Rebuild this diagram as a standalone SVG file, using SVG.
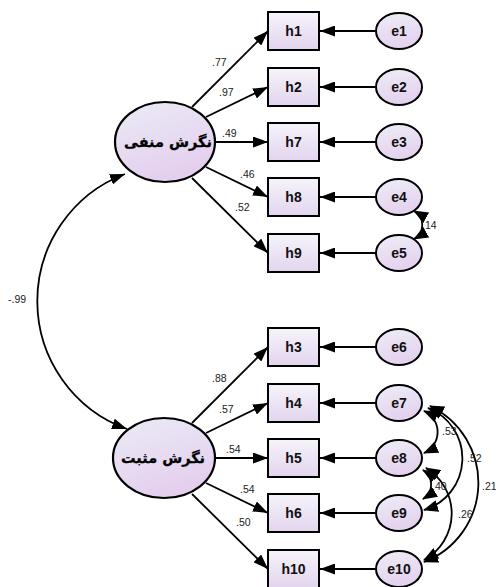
<svg xmlns="http://www.w3.org/2000/svg" width="496" height="587" viewBox="0 0 496 587">
<style>
.box rect{fill:url(#gb);stroke:#000;stroke-width:2}
.lat ellipse{fill:url(#gl);stroke:#000;stroke-width:2.2}
.err ellipse{fill:url(#ge);stroke:#000;stroke-width:2}
.nt{font-family:"Liberation Sans",Arial,sans-serif;font-weight:bold;font-size:14px;fill:#111;text-anchor:middle}
.lt{font-family:"DejaVu Sans","Noto Sans",sans-serif;font-weight:bold;font-size:14.5px;fill:#000;text-anchor:middle;stroke:#000;stroke-width:0.3}
.lb{font-family:"Liberation Sans",Arial,sans-serif;font-size:10.5px;fill:#222}
#conn path,#conn line{fill:none;stroke:#000;stroke-width:1.8}
</style>
<defs>
<linearGradient id="gb" x1="0" y1="0" x2="0" y2="1"><stop offset="0" stop-color="#f6f4fa"/><stop offset="1" stop-color="#e2d4ee"/></linearGradient>
<linearGradient id="gl" x1="0" y1="0" x2="0.4" y2="1"><stop offset="0" stop-color="#ebebf6"/><stop offset="1" stop-color="#e4cfee"/></linearGradient>
<linearGradient id="ge" x1="0" y1="0" x2="0.3" y2="1"><stop offset="0" stop-color="#eeedf7"/><stop offset="1" stop-color="#e4d2ee"/></linearGradient>
<marker id="ah" markerWidth="15" markerHeight="11" refX="15" refY="5.5" orient="auto-start-reverse" markerUnits="userSpaceOnUse"><path d="M0,0 L15,5.5 L0,11 Z" fill="#000"/></marker>
<marker id="ac" markerWidth="15" markerHeight="12" refX="14" refY="6" orient="auto-start-reverse" markerUnits="userSpaceOnUse"><path d="M0,0 L15,6 L0,12 Z" fill="#000"/></marker>
</defs>

<g id="conn">
<line x1="192" y1="107" x2="268" y2="31" marker-end="url(#ah)"/>
<line x1="206" y1="117" x2="268" y2="87" marker-end="url(#ah)"/>
<line x1="215" y1="142" x2="268" y2="142" marker-end="url(#ah)"/>
<line x1="206" y1="167" x2="268" y2="197" marker-end="url(#ah)"/>
<line x1="192" y1="178" x2="268" y2="253" marker-end="url(#ah)"/>
<line x1="192" y1="423" x2="268" y2="347" marker-end="url(#ah)"/>
<line x1="206" y1="433" x2="268" y2="403" marker-end="url(#ah)"/>
<line x1="215" y1="458" x2="268" y2="458" marker-end="url(#ah)"/>
<line x1="206" y1="483" x2="268" y2="513" marker-end="url(#ah)"/>
<line x1="192" y1="494" x2="268" y2="569" marker-end="url(#ah)"/>
<line x1="376" y1="31" x2="320" y2="31" marker-end="url(#ah)"/>
<line x1="376" y1="87" x2="320" y2="87" marker-end="url(#ah)"/>
<line x1="376" y1="142" x2="320" y2="142" marker-end="url(#ah)"/>
<line x1="376" y1="197" x2="320" y2="197" marker-end="url(#ah)"/>
<line x1="376" y1="253" x2="320" y2="253" marker-end="url(#ah)"/>
<line x1="376" y1="347" x2="320" y2="347" marker-end="url(#ah)"/>
<line x1="376" y1="403" x2="320" y2="403" marker-end="url(#ah)"/>
<line x1="376" y1="458" x2="320" y2="458" marker-end="url(#ah)"/>
<line x1="376" y1="513" x2="320" y2="513" marker-end="url(#ah)"/>
<line x1="376" y1="569" x2="320" y2="569" marker-end="url(#ah)"/>
<path d="M125,174 A136,136 0 0 0 127,429" marker-start="url(#ah)" marker-end="url(#ah)"/>
<path d="M414,211 A16,16 0 0 1 414,239" marker-start="url(#ac)" marker-end="url(#ac)"/>
<path d="M424,411 A23,23 0 0 1 424,453" marker-start="url(#ac)" marker-end="url(#ac)"/>
<path d="M428,408 A54,54 0 0 1 424,510" marker-start="url(#ac)" marker-end="url(#ac)"/>
<path d="M430,406 A85,85 0 0 1 424,562" marker-start="url(#ac)" marker-end="url(#ac)"/>
<path d="M423,470 A17,17 0 0 1 423,499" marker-start="url(#ac)" marker-end="url(#ac)"/>
<path d="M426,468 A53,53 0 0 1 424,560" marker-start="url(#ac)" marker-end="url(#ac)"/>
</g>

<g id="labels">
<text class="lb" x="212" y="66">.77</text>
<text class="lb" x="219" y="96">.97</text>
<text class="lb" x="222" y="137">.49</text>
<text class="lb" x="240" y="178">.46</text>
<text class="lb" x="235" y="211">.52</text>
<text class="lb" x="8" y="303">-.99</text>
<text class="lb" x="212" y="382">.88</text>
<text class="lb" x="219" y="413">.57</text>
<text class="lb" x="226" y="453">.54</text>
<text class="lb" x="240" y="493">.54</text>
<text class="lb" x="236" y="526">.50</text>
<text class="lb" x="422" y="229">.14</text>
<text class="lb" x="442" y="435">.53</text>
<text class="lb" x="467" y="462">.52</text>
<text class="lb" x="482" y="490">.21</text>
<text class="lb" x="432" y="490">.40</text>
<text class="lb" x="458" y="518">.26</text>
</g>

<g id="F1" class="lat"><ellipse cx="165" cy="142" rx="50" ry="40"/><text class="lt" x="168" y="147">نگرش منفی</text></g>
<g id="F2" class="lat"><ellipse cx="164" cy="458" rx="51" ry="40"/><text class="lt" x="163" y="463">نگرش مثبت</text></g>

<g id="h1" class="box"><rect x="268" y="12" width="51" height="38"/><text class="nt" x="293.5" y="36">h1</text></g>
<g id="h2" class="box"><rect x="268" y="68" width="51" height="38"/><text class="nt" x="293.5" y="92">h2</text></g>
<g id="h7" class="box"><rect x="268" y="123" width="51" height="38"/><text class="nt" x="293.5" y="147">h7</text></g>
<g id="h8" class="box"><rect x="268" y="178" width="51" height="38"/><text class="nt" x="293.5" y="202">h8</text></g>
<g id="h9" class="box"><rect x="268" y="234" width="51" height="38"/><text class="nt" x="293.5" y="258">h9</text></g>
<g id="h3" class="box"><rect x="268" y="328" width="51" height="38"/><text class="nt" x="293.5" y="352">h3</text></g>
<g id="h4" class="box"><rect x="268" y="384" width="51" height="38"/><text class="nt" x="293.5" y="408">h4</text></g>
<g id="h5" class="box"><rect x="268" y="439" width="51" height="38"/><text class="nt" x="293.5" y="463">h5</text></g>
<g id="h6" class="box"><rect x="268" y="494" width="51" height="38"/><text class="nt" x="293.5" y="518">h6</text></g>
<g id="h10" class="box"><rect x="268" y="550" width="51" height="38"/><text class="nt" x="293.5" y="574">h10</text></g>

<g id="e1" class="err"><ellipse cx="399" cy="31" rx="23" ry="18"/><text class="nt" x="399" y="36">e1</text></g>
<g id="e2" class="err"><ellipse cx="399" cy="87" rx="23" ry="18"/><text class="nt" x="399" y="92">e2</text></g>
<g id="e3" class="err"><ellipse cx="399" cy="142" rx="23" ry="18"/><text class="nt" x="399" y="147">e3</text></g>
<g id="e4" class="err"><ellipse cx="399" cy="197" rx="23" ry="18"/><text class="nt" x="399" y="202">e4</text></g>
<g id="e5" class="err"><ellipse cx="399" cy="253" rx="23" ry="18"/><text class="nt" x="399" y="258">e5</text></g>
<g id="e6" class="err"><ellipse cx="399" cy="347" rx="23" ry="18"/><text class="nt" x="399" y="352">e6</text></g>
<g id="e7" class="err"><ellipse cx="399" cy="403" rx="23" ry="18"/><text class="nt" x="399" y="408">e7</text></g>
<g id="e8" class="err"><ellipse cx="399" cy="458" rx="23" ry="18"/><text class="nt" x="399" y="463">e8</text></g>
<g id="e9" class="err"><ellipse cx="399" cy="513" rx="23" ry="18"/><text class="nt" x="399" y="518">e9</text></g>
<g id="e10" class="err"><ellipse cx="399" cy="569" rx="23" ry="18"/><text class="nt" x="399" y="574">e10</text></g>
</svg>
